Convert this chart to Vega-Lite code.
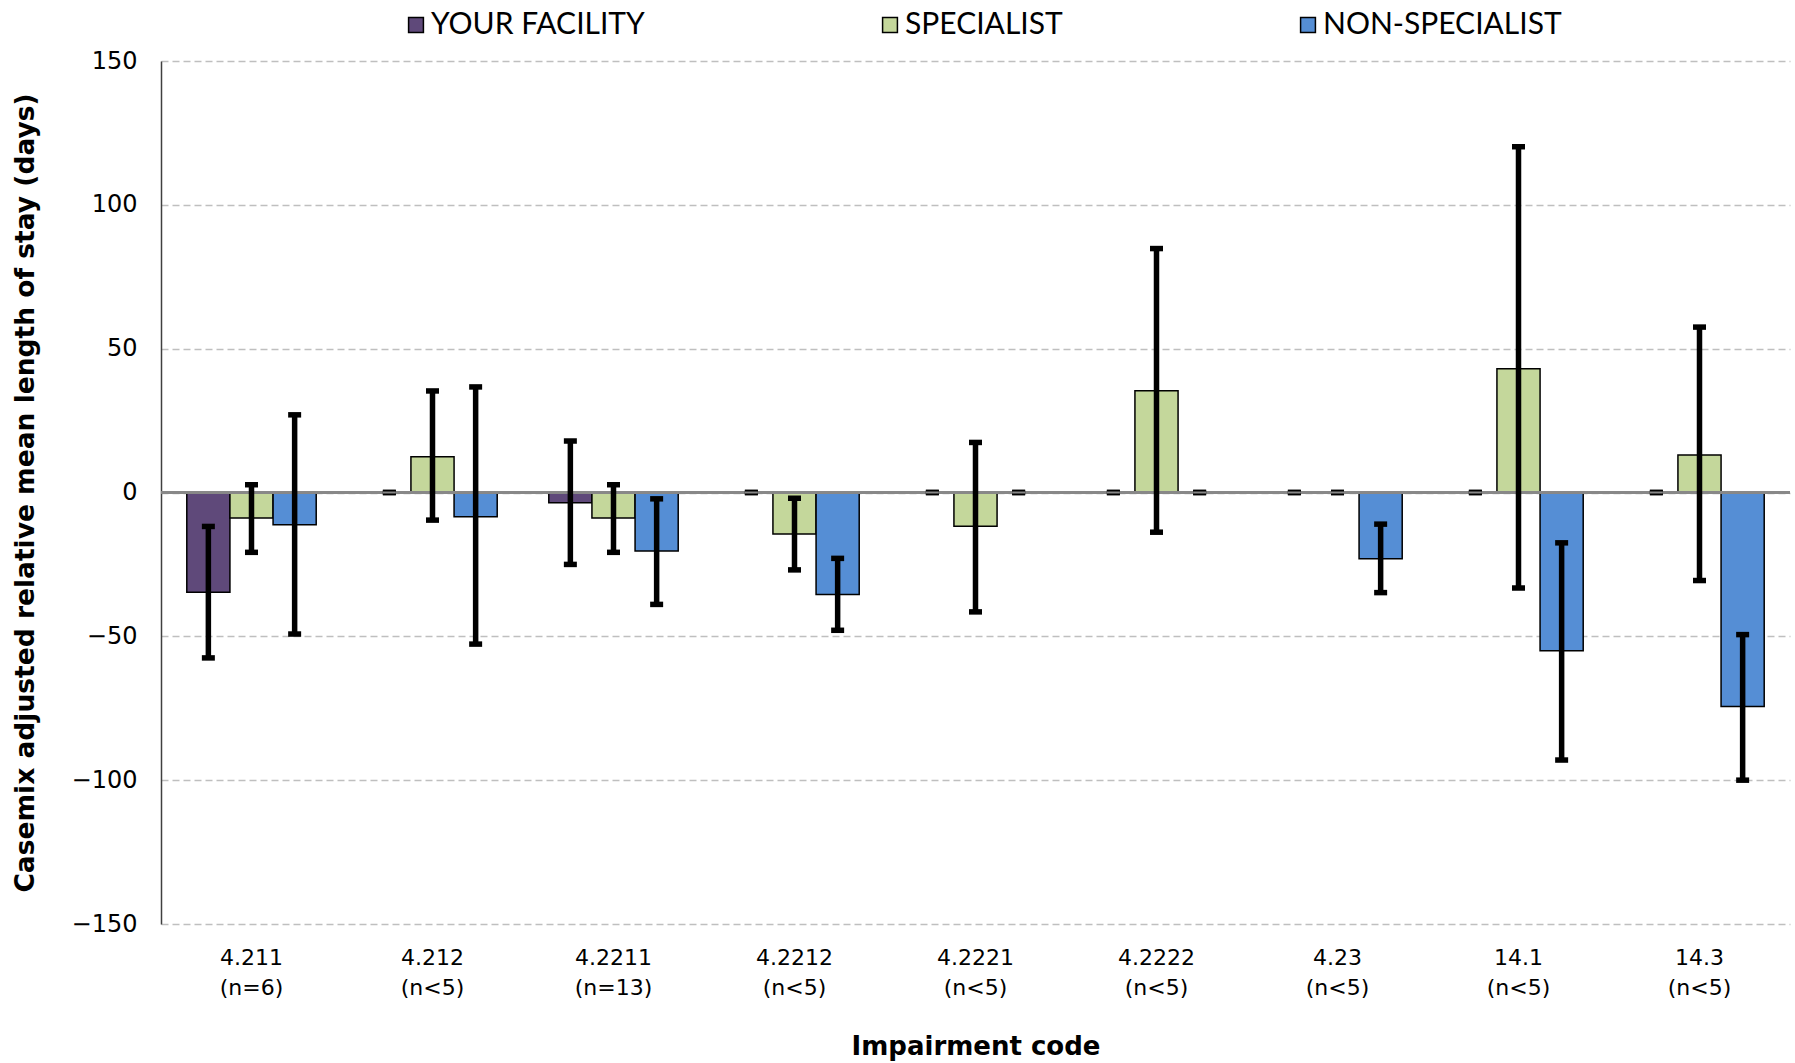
{
  "$schema": "https://vega.github.io/schema/vega-lite/v6.json",
  "autosize": "none",
  "width": 1629,
  "height": 863,
  "padding": {"left": 161, "top": 61, "right": 5, "bottom": 139},
  "background": "white",
  "config": {
    "view": {"stroke": null},
    "font": "DejaVu Sans"
  },
  "data": {
    "values": [
      {"label": "4.211|(n=6)", "series": "YOUR FACILITY", "value": -34.7, "lo": -57.5, "hi": -11.8},
      {"label": "4.211|(n=6)", "series": "SPECIALIST", "value": -8.9, "lo": -20.8, "hi": 2.7},
      {"label": "4.211|(n=6)", "series": "NON-SPECIALIST", "value": -11.2, "lo": -49.2, "hi": 27.0},
      {"label": "4.212|(n<5)", "series": "YOUR FACILITY", "value": 0, "lo": 0, "hi": 0},
      {"label": "4.212|(n<5)", "series": "SPECIALIST", "value": 12.4, "lo": -9.6, "hi": 35.3},
      {"label": "4.212|(n<5)", "series": "NON-SPECIALIST", "value": -8.4, "lo": -52.7, "hi": 36.7},
      {"label": "4.2211|(n=13)", "series": "YOUR FACILITY", "value": -3.6, "lo": -25.0, "hi": 17.9},
      {"label": "4.2211|(n=13)", "series": "SPECIALIST", "value": -8.9, "lo": -20.8, "hi": 2.7},
      {"label": "4.2211|(n=13)", "series": "NON-SPECIALIST", "value": -20.3, "lo": -38.9, "hi": -2.2},
      {"label": "4.2212|(n<5)", "series": "YOUR FACILITY", "value": 0, "lo": 0, "hi": 0},
      {"label": "4.2212|(n<5)", "series": "SPECIALIST", "value": -14.4, "lo": -26.9, "hi": -2.0},
      {"label": "4.2212|(n<5)", "series": "NON-SPECIALIST", "value": -35.5, "lo": -47.9, "hi": -22.9},
      {"label": "4.2221|(n<5)", "series": "YOUR FACILITY", "value": 0, "lo": 0, "hi": 0},
      {"label": "4.2221|(n<5)", "series": "SPECIALIST", "value": -11.7, "lo": -41.5, "hi": 17.4},
      {"label": "4.2221|(n<5)", "series": "NON-SPECIALIST", "value": 0, "lo": 0, "hi": 0},
      {"label": "4.2222|(n<5)", "series": "YOUR FACILITY", "value": 0, "lo": 0, "hi": 0},
      {"label": "4.2222|(n<5)", "series": "SPECIALIST", "value": 35.4, "lo": -13.8, "hi": 84.8},
      {"label": "4.2222|(n<5)", "series": "NON-SPECIALIST", "value": 0, "lo": 0, "hi": 0},
      {"label": "4.23|(n<5)", "series": "YOUR FACILITY", "value": 0, "lo": 0, "hi": 0},
      {"label": "4.23|(n<5)", "series": "SPECIALIST", "value": 0, "lo": 0, "hi": 0},
      {"label": "4.23|(n<5)", "series": "NON-SPECIALIST", "value": -23.0, "lo": -34.8, "hi": -11.0},
      {"label": "14.1|(n<5)", "series": "YOUR FACILITY", "value": 0, "lo": 0, "hi": 0},
      {"label": "14.1|(n<5)", "series": "SPECIALIST", "value": 43.0, "lo": -33.2, "hi": 120.2},
      {"label": "14.1|(n<5)", "series": "NON-SPECIALIST", "value": -55.0, "lo": -93.0, "hi": -17.5},
      {"label": "14.3|(n<5)", "series": "YOUR FACILITY", "value": 0, "lo": 0, "hi": 0},
      {"label": "14.3|(n<5)", "series": "SPECIALIST", "value": 13.0, "lo": -30.6, "hi": 57.5},
      {"label": "14.3|(n<5)", "series": "NON-SPECIALIST", "value": -74.4, "lo": -100.0, "hi": -49.4}
    ]
  },
  "encoding": {
    "x": {
      "field": "label",
      "type": "nominal",
      "sort": null,
      "scale": {"paddingInner": 0.285, "paddingOuter": 0.1425},
      "axis": {
        "title": "Impairment code",
        "titleFont": "DejaVu Sans",
        "titleFontSize": 26,
        "titleFontWeight": "bold",
        "titleColor": "black",
        "titleBaseline": "middle",
        "titleY": 122,
        "labelExpr": "split(datum.label, '|')",
        "labelAngle": 0,
        "labelFont": "DejaVu Sans",
        "labelFontSize": 22,
        "labelColor": "black",
        "labelLineHeight": 30,
        "labelPadding": 23,
        "ticks": false,
        "domain": false,
        "grid": false
      }
    },
    "xOffset": {
      "field": "series",
      "type": "nominal",
      "sort": ["YOUR FACILITY", "SPECIALIST", "NON-SPECIALIST"],
      "scale": {"paddingInner": 0, "paddingOuter": 0}
    }
  },
  "layer": [
    {
      "mark": {"type": "bar", "stroke": "black", "strokeWidth": 1.5},
      "encoding": {
        "y": {
          "field": "value",
          "type": "quantitative",
          "scale": {"domain": [-150, 150], "nice": false, "zero": false},
          "axis": {
            "title": "Casemix adjusted relative mean length of stay (days)",
            "titleFont": "DejaVu Sans",
            "titleFontSize": 26.5,
            "titleFontWeight": "bold",
            "titleColor": "black",
            "titleBaseline": "middle",
            "titleX": -136,
            "titleY": 431.5,
            "values": [-150, -100, -50, 0, 50, 100, 150],
            "labelFont": "DejaVu Sans",
            "labelFontSize": 24,
            "labelColor": "black",
            "labelPadding": 24,
            "ticks": false,
            "domainColor": "#404040",
            "domainWidth": 1.5,
            "grid": true,
            "gridColor": "#BFBFBF",
            "gridWidth": 1.5,
            "gridDash": [7, 4]
          }
        },
        "color": {
          "field": "series",
          "type": "nominal",
          "scale": {
            "domain": ["YOUR FACILITY", "SPECIALIST", "NON-SPECIALIST"],
            "range": ["#5F497A", "#C4D79B", "#558ED5"]
          },
          "legend": {
            "title": null,
            "orient": "none",
            "direction": "horizontal",
            "legendX": 240,
            "legendY": -51,
            "symbolType": "square",
            "symbolSize": 220,
            "symbolStrokeColor": "black",
            "symbolStrokeWidth": 1.5,
            "symbolOpacity": 1,
            "labelFont": "Lato",
            "labelFontSize": 30,
            "labelColor": "black",
            "labelOffset": 0,
            "columnPadding": 230,
            "labelLimit": 400
          }
        }
      }
    },
    {
      "mark": {"type": "rule", "color": "#888888", "strokeWidth": 2},
      "encoding": {"y": {"datum": 0}, "x": null, "xOffset": null}
    },
    {
      "mark": {"type": "rule", "color": "black", "strokeWidth": 5.5},
      "encoding": {
        "y": {"field": "lo", "type": "quantitative"},
        "y2": {"field": "hi"}
      }
    },
    {
      "mark": {"type": "tick", "color": "black", "size": 13, "thickness": 5.5, "opacity": 1},
      "encoding": {"y": {"field": "lo", "type": "quantitative"}}
    },
    {
      "mark": {"type": "tick", "color": "black", "size": 13, "thickness": 5.5, "opacity": 1},
      "encoding": {"y": {"field": "hi", "type": "quantitative"}}
    },
    {
      "transform": [{"filter": "datum.lo == 0 && datum.hi == 0"}],
      "mark": {"type": "tick", "color": "#888888", "size": 13, "thickness": 2, "opacity": 1},
      "encoding": {"y": {"field": "value", "type": "quantitative"}}
    }
  ]
}
